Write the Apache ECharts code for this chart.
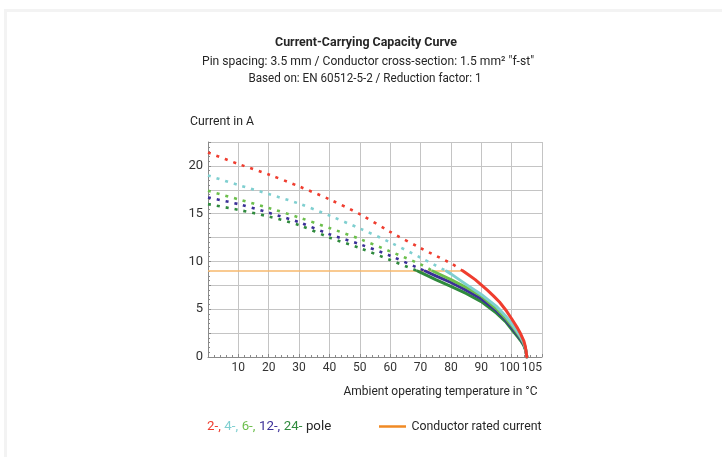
<!DOCTYPE html>
<html>
<head>
<meta charset="utf-8">
<script src="https://cdn.jsdelivr.net/npm/echarts@6/dist/echarts.min.js"></script>
<style>
html,body{margin:0;padding:0;background:#fff;overflow:hidden;}
#frame{position:absolute;left:4px;top:9px;width:740px;height:470px;border-left:3px solid #f3f3f3;border-top:3px solid #f3f3f3;}
#chart{position:absolute;left:0;top:0;width:722px;height:457px;}
</style>
</head>
<body>
<div id="frame"></div>
<div id="chart"></div>
<script>
// ---- data ----
const xTickLabels = [10, 20, 30, 40, 50, 60, 70, 80, 90, 100, 105];
const poleNames = ['2-', '4-', '6-', '12-', '24-'];
const poleColors = ['#ef3d2f', '#7fcfd0', '#6cbf4c', '#3b2f97', '#2f8a3d'];

// dashed (above rated current) parts: temperature / current
const dash2T = [0, 10, 20, 30, 40, 50, 60, 70, 80, 84];
const dash2I = [21.4, 20.2, 19.1, 17.85, 16.5, 14.95, 13.1, 11.4, 9.8, 9.0];
const dash4T = [0, 10, 20, 30, 40, 50, 60, 70, 78.5];
const dash4I = [19.0, 18.0, 17.05, 16.05, 14.8, 13.45, 12.0, 10.4, 9.0];
const dash6T = [0, 10, 20, 30, 40, 50, 60, 70, 74];
const dash6I = [17.4, 16.5, 15.6, 14.6, 13.5, 12.35, 11.05, 9.7, 9.0];
const dash12T = [0, 10, 20, 30, 40, 50, 60, 70, 71.5];
const dash12I = [16.7, 16.0, 15.1, 14.1, 12.85, 11.8, 10.6, 9.2, 9.0];
const dash24T = [0, 10, 20, 30, 40, 50, 60, 69];
const dash24I = [16.0, 15.4, 14.7, 13.8, 12.5, 11.4, 10.15, 9.0];

// solid (below rated current) parts
const solid2T = [84, 86, 88, 90, 92, 94, 96, 98, 100, 101, 102, 103, 104, 104.5, 104.8, 105];
const solid2I = [9.0, 8.55, 8.1, 7.55, 7.0, 6.4, 5.75, 4.95, 4.0, 3.5, 3.0, 2.4, 1.7, 1.1, 0.5, 0];
const solid4T = [78.5, 80, 85, 90, 95, 98, 100, 102, 103, 104, 104.5, 104.8, 105];
const solid4I = [9.0, 8.7, 7.6, 6.55, 5.3, 4.3, 3.5, 2.6, 2.1, 1.5, 1.0, 0.5, 0];
const solid6T = [74, 80, 85, 90, 95, 98, 100, 102, 103, 104, 104.5, 104.8, 105];
const solid6I = [9.0, 8.1, 7.3, 6.4, 5.05, 4.05, 3.3, 2.45, 2.0, 1.4, 0.95, 0.5, 0];
const solid12T = [71.5, 75, 80, 85, 90, 95, 98, 100, 102, 103, 104, 104.5, 104.8, 105];
const solid12I = [9.0, 8.5, 7.8, 7.0, 6.1, 4.85, 3.9, 3.1, 2.3, 1.85, 1.3, 0.9, 0.45, 0];
const solid24T = [69, 70, 75, 80, 85, 90, 95, 98, 100, 102, 103, 104, 104.5, 104.8, 105];
const solid24I = [9.0, 8.85, 8.1, 7.4, 6.65, 5.8, 4.6, 3.7, 2.9, 2.1, 1.7, 1.2, 0.8, 0.4, 0];

// conductor rated current
const ratedT = [0, 84];
const ratedI = [9.0, 9.0];

const dashT = [dash2T, dash4T, dash6T, dash12T, dash24T];
const dashI = [dash2I, dash4I, dash6I, dash12I, dash24I];
const solidT = [solid2T, solid4T, solid6T, solid12T, solid24T];
const solidI = [solid2I, solid4I, solid6I, solid12I, solid24I];

function pairs(t, v) { return t.map((x, i) => [x, v[i]]); }

const FAM = 'Roboto, "Noto Sans", sans-serif';
const mctx = document.createElement('canvas').getContext('2d');
function fit(str, font, w) { mctx.font = font; return w / mctx.measureText(str).width; }

const series = [];
series.push({
  type: 'line', data: pairs(ratedT, ratedI), symbol: 'none', silent: true,
  lineStyle: { color: '#f7b96c', width: 1.6 }, z: 1
});
for (let k = poleNames.length - 1; k >= 0; k--) {
  series.push({
    type: 'line', data: pairs(dashT[k], dashI[k]), symbol: 'none', smooth: 0.3, silent: true,
    lineStyle: { color: poleColors[k], width: 2.6, type: [3, 6] }, z: 2
  });
}
for (let k = poleNames.length - 1; k >= 0; k--) {
  series.push({
    type: 'line', data: pairs(solidT[k], solidI[k]), symbol: 'none', smooth: false, silent: true,
    lineStyle: { color: poleColors[k], width: 3, type: 'solid', cap: 'round', join: 'round' }, z: 3
  });
}

function txt(str, x, y, font, w, align, extra) {
  const s = fit(str, font, w);
  return Object.assign({
    type: 'text', x: x, y: y, scaleX: s, scaleY: 1,
    style: { text: str, font: font, fill: '#262626', align: align, verticalAlign: 'middle' }
  }, extra || {});
}

const F12 = '12.5px ' + FAM;
const legendStr = '2-, 4-, 6-, 12-, 24- pole';
const legendScale = fit(legendStr, F12, 123);

const chart = echarts.init(document.getElementById('chart'), null, { renderer: 'canvas' });
chart.setOption({
  animation: false,
  backgroundColor: 'transparent',
  grid: { left: 208, right: 180, top: 142, bottom: 100, containLabel: false },
  xAxis: {
    type: 'value', min: 0, max: 110, interval: 10,
    axisLine: { show: true, lineStyle: { color: '#8a8a8a' } },
    axisTick: { show: true, inside: true, length: 3, lineStyle: { color: '#8a8a8a' } },
    minorTick: { show: true, splitNumber: 5, length: 2, lineStyle: { color: '#8a8a8a' } },
    splitLine: { show: true, lineStyle: { color: '#c4c4c4', width: 1 } },
    axisLabel: {
      customValues: xTickLabels, hideOverlap: false, color: '#333', fontSize: 12, fontFamily: FAM, margin: 5,
      formatter: v => (v === 100 ? '{l|100}' : v === 105 ? '{r|105}' : String(v)),
      rich: {
        l: { fontSize: 12, fontFamily: FAM, color: '#333', padding: [0, 4, 0, 0] },
        r: { fontSize: 12, fontFamily: FAM, color: '#333', padding: [0, 0, 0, 10] }
      }
    }
  },
  yAxis: {
    type: 'value', min: 0, max: 22.5, interval: 2.5,
    axisLine: { show: true, lineStyle: { color: '#8a8a8a' } },
    axisTick: { show: true, inside: true, length: 3, lineStyle: { color: '#8a8a8a' } },
    minorTick: { show: true, splitNumber: 5, length: 2, lineStyle: { color: '#8a8a8a' } },
    splitLine: { show: true, lineStyle: { color: '#c4c4c4', width: 1 } },
    axisLabel: {
      color: '#333', fontSize: 13, fontFamily: FAM, margin: 5,
      formatter: v => (Math.abs(v % 5) < 1e-9 ? String(v) : '')
    }
  },
  graphic: [
    txt('Current-Carrying Capacity Curve', 366, 42.5, 'bold 12.5px ' + FAM, 182, 'center'),
    txt('Pin spacing: 3.5 mm / Conductor cross-section: 1.5 mm² "f-st"', 368, 61.5, F12, 332, 'center'),
    txt('Based on: EN 60512-5-2 / Reduction factor: 1', 365, 79, F12, 233, 'center'),
    txt('Current in A', 190, 121.5, F12, 64, 'left'),
    txt('Ambient operating temperature in °C', 537.5, 391.5, F12, 194, 'right'),
    { type: 'text', x: 207, y: 426.5, scaleX: legendScale, style: {
        text: '{a|2-,} {b|4-,} {c|6-,} {d|12-,} {e|24-} {f|pole}',
        verticalAlign: 'middle',
        rich: {
          a: { fill: poleColors[0], font: F12 },
          b: { fill: poleColors[1], font: F12 },
          c: { fill: poleColors[2], font: F12 },
          d: { fill: poleColors[3], font: F12 },
          e: { fill: poleColors[4], font: F12 },
          f: { fill: '#262626', font: F12 }
        }
      } },
    { type: 'line', shape: { x1: 379, y1: 426.5, x2: 406, y2: 426.5 }, style: { stroke: '#f08a24', lineWidth: 2.5 } },
    txt('Conductor rated current', 411.5, 426.5, F12, 130, 'left')
  ],
  series: series
});
</script>
</body>
</html>
